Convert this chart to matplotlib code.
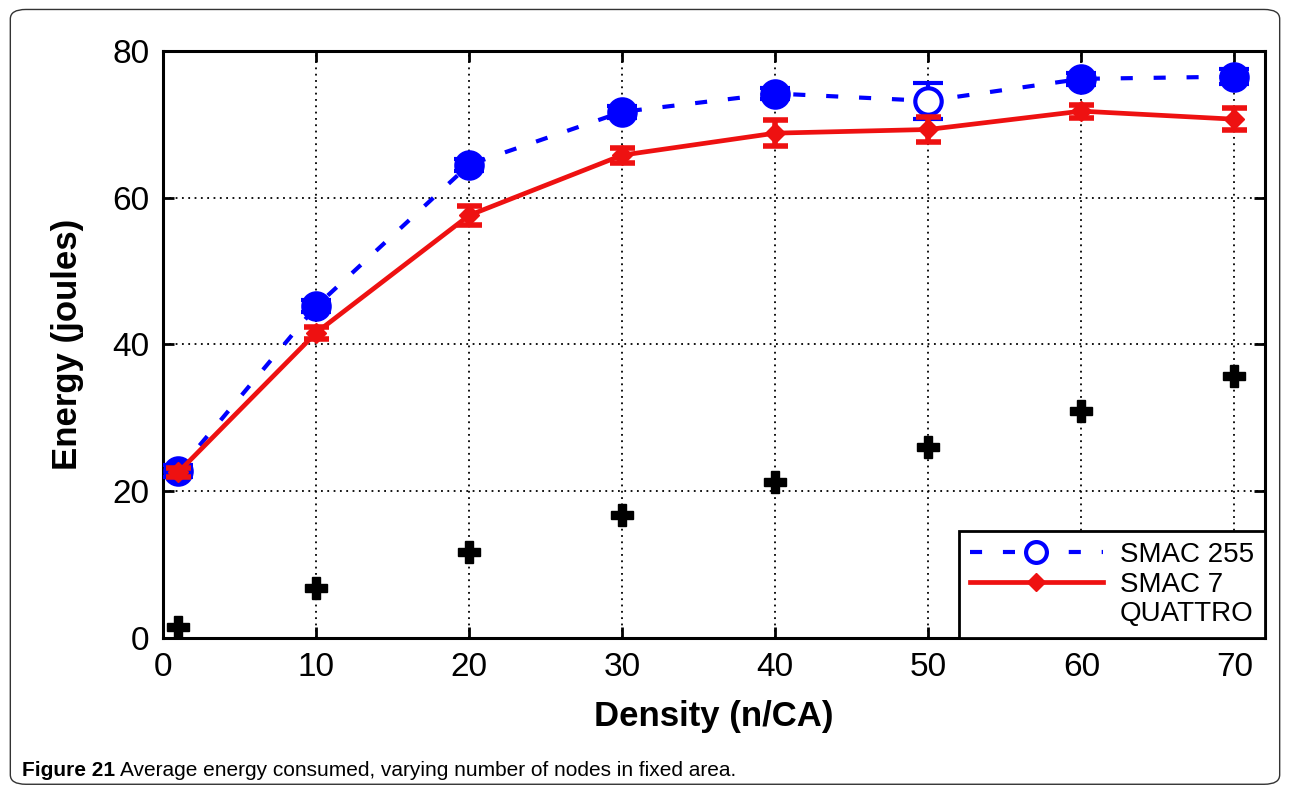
import matplotlib.pyplot as plt
from matplotlib.patches import FancyBboxPatch
from matplotlib.lines import Line2D

density = [1, 10, 20, 30, 40, 50, 60, 70]
smac255 = [22.8, 45.2, 64.5, 71.7, 74.2, 73.2, 76.2, 76.5]
smac255_err = [0.8, 0.8, 0.8, 0.8, 0.8, 2.5, 0.8, 1.0]
smac7 = [22.6, 41.6, 57.6, 65.8, 68.8, 69.3, 71.8, 70.7]
smac7_err = [0.6, 0.8, 1.3, 1.0, 1.8, 1.7, 0.9, 1.5]
quattro = [1.5, 6.8, 11.7, 16.7, 21.3, 26.0, 30.9, 35.7]
xticks = [0, 10, 20, 30, 40, 50, 60, 70]
yticks = [0, 20, 40, 60, 80]

narrow = ['Liberation Sans Narrow', 'Liberation Sans', 'DejaVu Sans']
dash = (0, (2.9, 5.0))

fig = plt.figure(figsize=(12.9, 7.89), dpi=100)
fig.patches.append(FancyBboxPatch((0.008, 0.006), 0.984, 0.982,
                                  boxstyle='round,pad=0,rounding_size=0.012',
                                  transform=fig.transFigure, fill=False,
                                  edgecolor='#333333', lw=1.0))

ax = fig.add_axes([0.1264, 0.1914, 0.8542, 0.744])

# blue: dashed with error bars
ax.errorbar(density, smac255, yerr=smac255_err, color='blue', ls=dash,
            lw=3, marker='o', ms=19, mfc='white', mec='blue', mew=3,
            capsize=11, elinewidth=3, capthick=3, zorder=3)
ax.plot(density, smac255, ls='none', marker='o', ms=19, mfc='blue', mec='blue',
        markevery=[0, 1, 2, 3, 4, 6, 7], zorder=3.5)

# red: solid with error bars
ax.errorbar(density, smac7, yerr=smac7_err, color='#ee1111', ls='-', lw=3.4,
            marker='D', ms=10, mfc='#ee1111', mec='#ee1111',
            capsize=9, elinewidth=4, capthick=4, zorder=4)

# black pluses
ax.plot(density, quattro, ls='none', marker='P', ms=16, color='black', zorder=4)

ax.set_xlim(0, 72)
ax.set_ylim(0, 80)
ax.set_xticks(xticks)
ax.set_yticks(yticks)
ax.grid(True, color='black', ls=(0, (1, 2.5)), lw=1.3)
ax.tick_params(direction='in', length=8, width=2, top=True, right=True,
               labelsize=24, pad=10)
for lab in ax.get_xticklabels() + ax.get_yticklabels():
    lab.set_family(narrow)
for s in ax.spines.values():
    s.set_linewidth(2.2)

ax.set_xlabel('Density (n/CA)', fontsize=25, fontweight='bold', family=narrow, labelpad=12)
ax.set_ylabel('Energy (joules)', fontsize=25, fontweight='bold', family=narrow, labelpad=20)

handles = [
    Line2D([], [], color='blue', ls=dash, lw=3, marker='o', ms=15,
           mfc='white', mec='blue', mew=3),
    Line2D([], [], color='#ee1111', ls='-', lw=3.4, marker='D', ms=9),
    Line2D([], [], ls='none'),
]
leg = ax.legend(handles, ['SMAC 255', 'SMAC 7', 'QUATTRO'], loc='lower right',
                bbox_to_anchor=(1.0, 0.0), borderaxespad=0, fancybox=False,
                edgecolor='black', framealpha=1, handlelength=4.8,
                labelspacing=0.12, borderpad=0.4, handletextpad=0.6,
                prop={'family': 'Liberation Sans', 'size': 20})
leg.get_frame().set_linewidth(2)
leg.set_zorder(10)

t1 = fig.text(0.017, 0.012, 'Figure 21', fontsize=15, fontweight='bold',
              family=narrow, va='bottom')
fig.canvas.draw()
bb = t1.get_window_extent()
fig.text(bb.x1 / fig.bbox.width + 0.004, 0.012,
         'Average energy consumed, varying number of nodes in fixed area.',
         fontsize=15, family=narrow, va='bottom')

fig.savefig('out.png', dpi=100)
